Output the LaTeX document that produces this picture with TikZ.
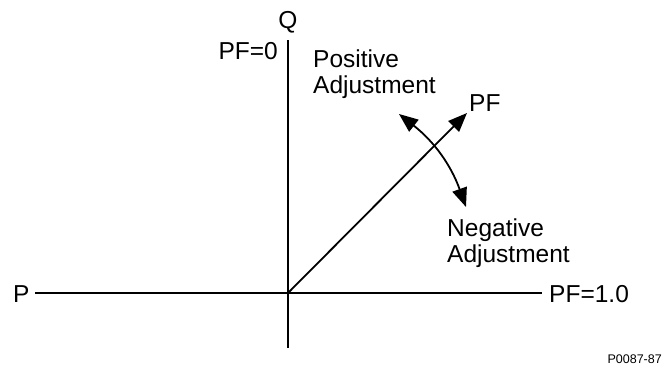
\documentclass[tikz,border=0pt]{standalone}
\usepackage{fontspec}
\setmainfont{Liberation Sans}
\usetikzlibrary{arrows.meta, positioning}

\begin{document}
\begin{tikzpicture}[x=1pt, y=1pt, >={Triangle[length=19pt, width=15pt]},
	asse/.style={line width=1.8pt},
	etichetta/.style={inner sep=0pt, font=\fontsize{24.5}{25.5}\selectfont},
	etichettamulti/.style={etichetta, align=left}]
	\useasboundingbox (0,0) rectangle (670,366);
	
	% Coordinate principali
	\coordinate (O)       at (288,73);
	\coordinate (Q_top)   at (288,326);
	\coordinate (Q_bot)   at (288,18);
	\coordinate (P_left)  at (35,73);
	\coordinate (P_right) at (542,73);
	\coordinate (PF_tip)  at (467,253);
	\coordinate (Adj_pos) at (399,252);
	\coordinate (Adj_neg) at (466,159);
	
	% Assi P e Q
	\draw[asse] (P_left) -- (P_right);
	\draw[asse] (Q_bot) -- (Q_top);
	
	% Vettore PF e regolazione
	\draw[asse, ->] (O) -- (PF_tip);
	\draw[asse, <->] (Adj_pos) to[bend left=16] (Adj_neg);
	
	% Etichette
	\node[etichetta, anchor=base] (lbl_Q) at (288,337) {Q};
	\node[etichetta, anchor=base east] (lbl_PF0) at (278,306) {PF=0};
	\node[etichetta, anchor=base west] (lbl_P) at (13,63) {P};
	\node[etichetta, anchor=base west] (lbl_PF1) at (549,63) {PF=1.0};
	\node[etichetta, anchor=base west] (lbl_PF) at (469,254) {PF};
	\node[etichettamulti, anchor=north west] (lbl_pos) at (313,316) {Positive\\Adjustment};
	\node[etichettamulti, anchor=north west] (lbl_neg) at (447,147) {Negative\\Adjustment};
	\node[inner sep=0pt, anchor=base east, font=\fontsize{12.5}{14}\selectfont] (lbl_code) at (662,2) {P0087-87};
	
\end{tikzpicture}
\end{document}
